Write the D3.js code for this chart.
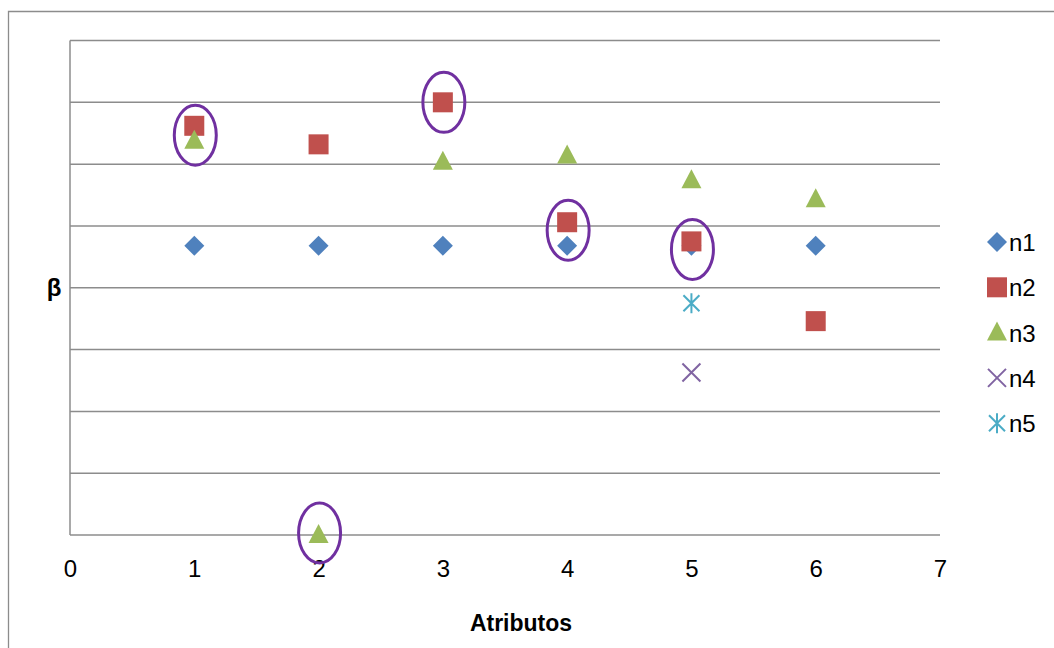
<!DOCTYPE html>
<html>
<head>
<meta charset="utf-8">
<script src="https://cdn.jsdelivr.net/npm/d3@7"></script>
<style>
  body { margin: 0; background: #fff; }
  text { font-family: "Liberation Sans", Arial, sans-serif; }
</style>
</head>
<body>
<svg width="1054" height="648"></svg>
<script>
// valori (asse y senza etichette, scala 0..8)
var atributos = [1, 2, 3, 4, 5, 6];
var n1 = [4.68, 4.68, 4.68, 4.68, 4.68, 4.68];
var n2 = [6.62, 6.32, 7.0, 5.06, 4.75, 3.46];
var n3 = [6.38, 0.0, 6.04, 6.14, 5.74, 5.43];
var n4x = [5], n4 = [2.63];
var n5x = [5], n5 = [3.75];
var serieNomi = ["n1", "n2", "n3", "n4", "n5"];
// punti evidenziati con ellisse: [x, serie]
var evidenziati = [[1, "n2n3"], [2, "n3"], [3, "n2"], [4, "n2"], [5, "n2"]];

var svg = d3.select("svg");

var x = d3.scaleLinear().domain([0, 7]).range([70, 940]);
var y = d3.scaleLinear().domain([0, 8]).range([535, 40.5]);

// cornice esterna
svg.append("path")
  .attr("d", "M8.5,648 L8.5,11.5 L1054,11.5")
  .attr("fill", "none").attr("stroke", "#8c8c8c").attr("stroke-width", 1.3);

// linee guida
svg.append("g").selectAll("line")
  .data(d3.range(1, 9))
  .enter().append("line")
  .attr("x1", x(0)).attr("x2", x(7))
  .attr("y1", function(d){ return y(d); }).attr("y2", function(d){ return y(d); })
  .style("stroke", "#8c8c8c").attr("stroke-width", 1.5);

// assi
svg.append("line")
  .attr("x1", x(0)).attr("x2", x(0)).attr("y1", y(0)).attr("y2", y(8))
  .style("stroke", "#8c8c8c").attr("stroke-width", 1.5);
svg.append("line")
  .attr("x1", x(0)).attr("x2", x(7)).attr("y1", y(0)).attr("y2", y(0))
  .style("stroke", "#8c8c8c").attr("stroke-width", 1.5);

var xAxis = d3.axisBottom(x).ticks(7).tickSize(0).tickPadding(25).tickFormat(d3.format("d"));
var gx = svg.append("g").attr("transform", "translate(0," + y(0) + ")").call(xAxis);
gx.select(".domain").remove();
gx.selectAll("text").style("font-size", "24px").attr("fill", "#000")
  .style("font-family", "'Liberation Sans', Arial, sans-serif");

svg.append("text").attr("x", 521).attr("y", 631).attr("text-anchor", "middle")
  .style("font-size", "23px").style("font-weight", "bold").text("Atributos");
svg.append("text").attr("x", 54).attr("y", 296).attr("text-anchor", "middle")
  .style("font-size", "24px").style("font-weight", "bold").text("β");

var colori = {n1: "#4f81bd", n2: "#c0504d", n3: "#9bbb59", n4: "#8064a2", n5: "#4bacc6"};

function marker(g, nome, cx, cy) {
  if (nome == "n1") {
    g.append("path").attr("d", "M0,-10 L10,0 L0,10 L-10,0 Z")
      .attr("transform", "translate(" + cx + "," + cy + ")").attr("fill", colori.n1);
  }
  if (nome == "n2") {
    g.append("rect").attr("x", cx - 10).attr("y", cy - 10).attr("width", 20).attr("height", 20)
      .attr("fill", colori.n2);
  }
  if (nome == "n3") {
    g.append("path").attr("d", "M0,-11 L10,8 L-10,8 Z")
      .attr("transform", "translate(" + cx + "," + cy + ")").attr("fill", colori.n3);
  }
  if (nome == "n4") {
    g.append("path").attr("d", "M-9,-9 L9,9 M-9,9 L9,-9")
      .attr("transform", "translate(" + cx + "," + cy + ")")
      .attr("stroke", colori.n4).attr("stroke-width", 2).attr("fill", "none");
  }
  if (nome == "n5") {
    g.append("path").attr("d", "M-8,-8 L8,8 M-8,8 L8,-8 M0,-10 L0,10")
      .attr("transform", "translate(" + cx + "," + cy + ")")
      .attr("stroke", colori.n5).attr("stroke-width", 2).attr("fill", "none");
  }
}

var punti = svg.append("g");
atributos.forEach(function(a, i){ marker(punti, "n1", x(a), y(n1[i])); });
atributos.forEach(function(a, i){ marker(punti, "n2", x(a), y(n2[i])); });
atributos.forEach(function(a, i){ marker(punti, "n3", x(a), y(n3[i])); });
n4x.forEach(function(a, i){ marker(punti, "n4", x(a), y(n4[i])); });
n5x.forEach(function(a, i){ marker(punti, "n5", x(a), y(n5[i])); });

// ellissi
svg.append("g").selectAll("ellipse")
  .data(evidenziati)
  .enter().append("ellipse")
  .attr("cx", function(d){ return x(d[0]) + 1; })
  .attr("cy", function(d){
    var i = atributos.indexOf(d[0]);
    if (d[1] == "n2n3") return (y(n2[i]) + y(n3[i])) / 2 + 2;
    if (d[1] == "n3") return y(n3[i]) - 2;
    return y(n2[i]) + (d[0] >= 4 ? 8 : 0);
  })
  .attr("rx", 21).attr("ry", 30)
  .attr("fill", "none").attr("stroke", "#7030a0").attr("stroke-width", 3);

// legenda
var leg = svg.append("g");
serieNomi.forEach(function(nome, i){
  var ly = 242 + i * 45.3;
  marker(leg, nome, 997, ly);
  leg.append("text").attr("x", 1009).attr("y", ly + 9).style("font-size", "24px").text(nome);
});
</script>
</body>
</html>
